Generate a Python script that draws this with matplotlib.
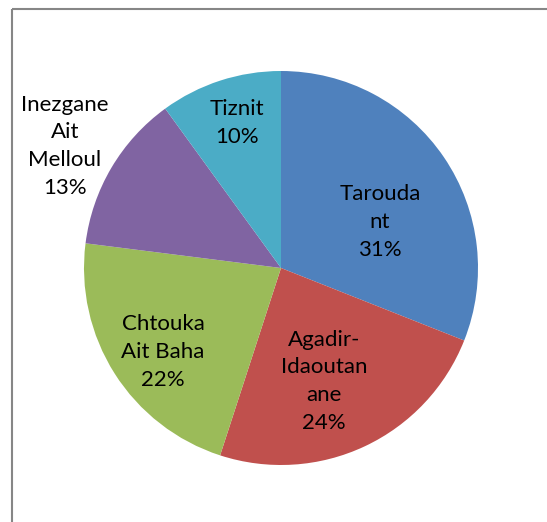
import matplotlib
matplotlib.use("Agg")
import matplotlib.pyplot as plt
import numpy as np

categories = ["Taroudant", "Agadir-Idaoutanane", "Chtouka Ait Baha", "Inezgane Ait Melloul", "Tiznit"]
values = [31, 24, 22, 13, 10]
label_lines = ["Tarouda\nnt", "Agadir-\nIdaoutan\nane", "Chtouka\nAit Baha", "Inezgane\nAit\nMelloul", "Tiznit"]
colors = ["#4F81BD", "#C0504D", "#9BBB59", "#8064A2", "#4BACC6"]

# layout: radial fraction and angle offset (deg) of each label
label_r = [0.553, 0.614, 0.735, 1.26, 0.77]
label_dang = [-9.3, -4.4, 3.0, 1.2, -1.1]

W, H = 547, 522
fig = plt.figure(figsize=(W / 100, H / 100), dpi=100)
ax = fig.add_axes([0, 0, 1, 1])

cx, cy, R = 281, H - 268, 197
wedges, _ = ax.pie(values, colors=colors, startangle=90, counterclock=False,
                   center=(cx, cy), radius=R, frame=True,
                   wedgeprops=dict(linewidth=0))
ax.set_xlim(0, W)
ax.set_ylim(0, H)
ax.set_aspect("equal")
ax.axis("off")

total = sum(values)
for w, v, txt, rf, da in zip(wedges, values, label_lines, label_r, label_dang):
    mid = (w.theta1 + w.theta2) / 2 + da
    x = cx + rf * R * np.cos(np.radians(mid))
    y = cy + rf * R * np.sin(np.radians(mid))
    ax.text(x, y, f"{txt}\n{round(100 * v / total)}%", ha="center", va="center",
            fontsize=16, family=["Lato", "DejaVu Sans"], color="black",
            linespacing=1.48, multialignment="center")

# chart frame (only top and left edges visible)
ax.plot([12, W + 5], [H - 9, H - 9], color="#868686", lw=1.5, solid_capstyle="butt", clip_on=False)
ax.plot([12, 12], [H - 9, -5], color="#868686", lw=1.5, solid_capstyle="butt", clip_on=False)

fig.savefig("out.png", dpi=100)
